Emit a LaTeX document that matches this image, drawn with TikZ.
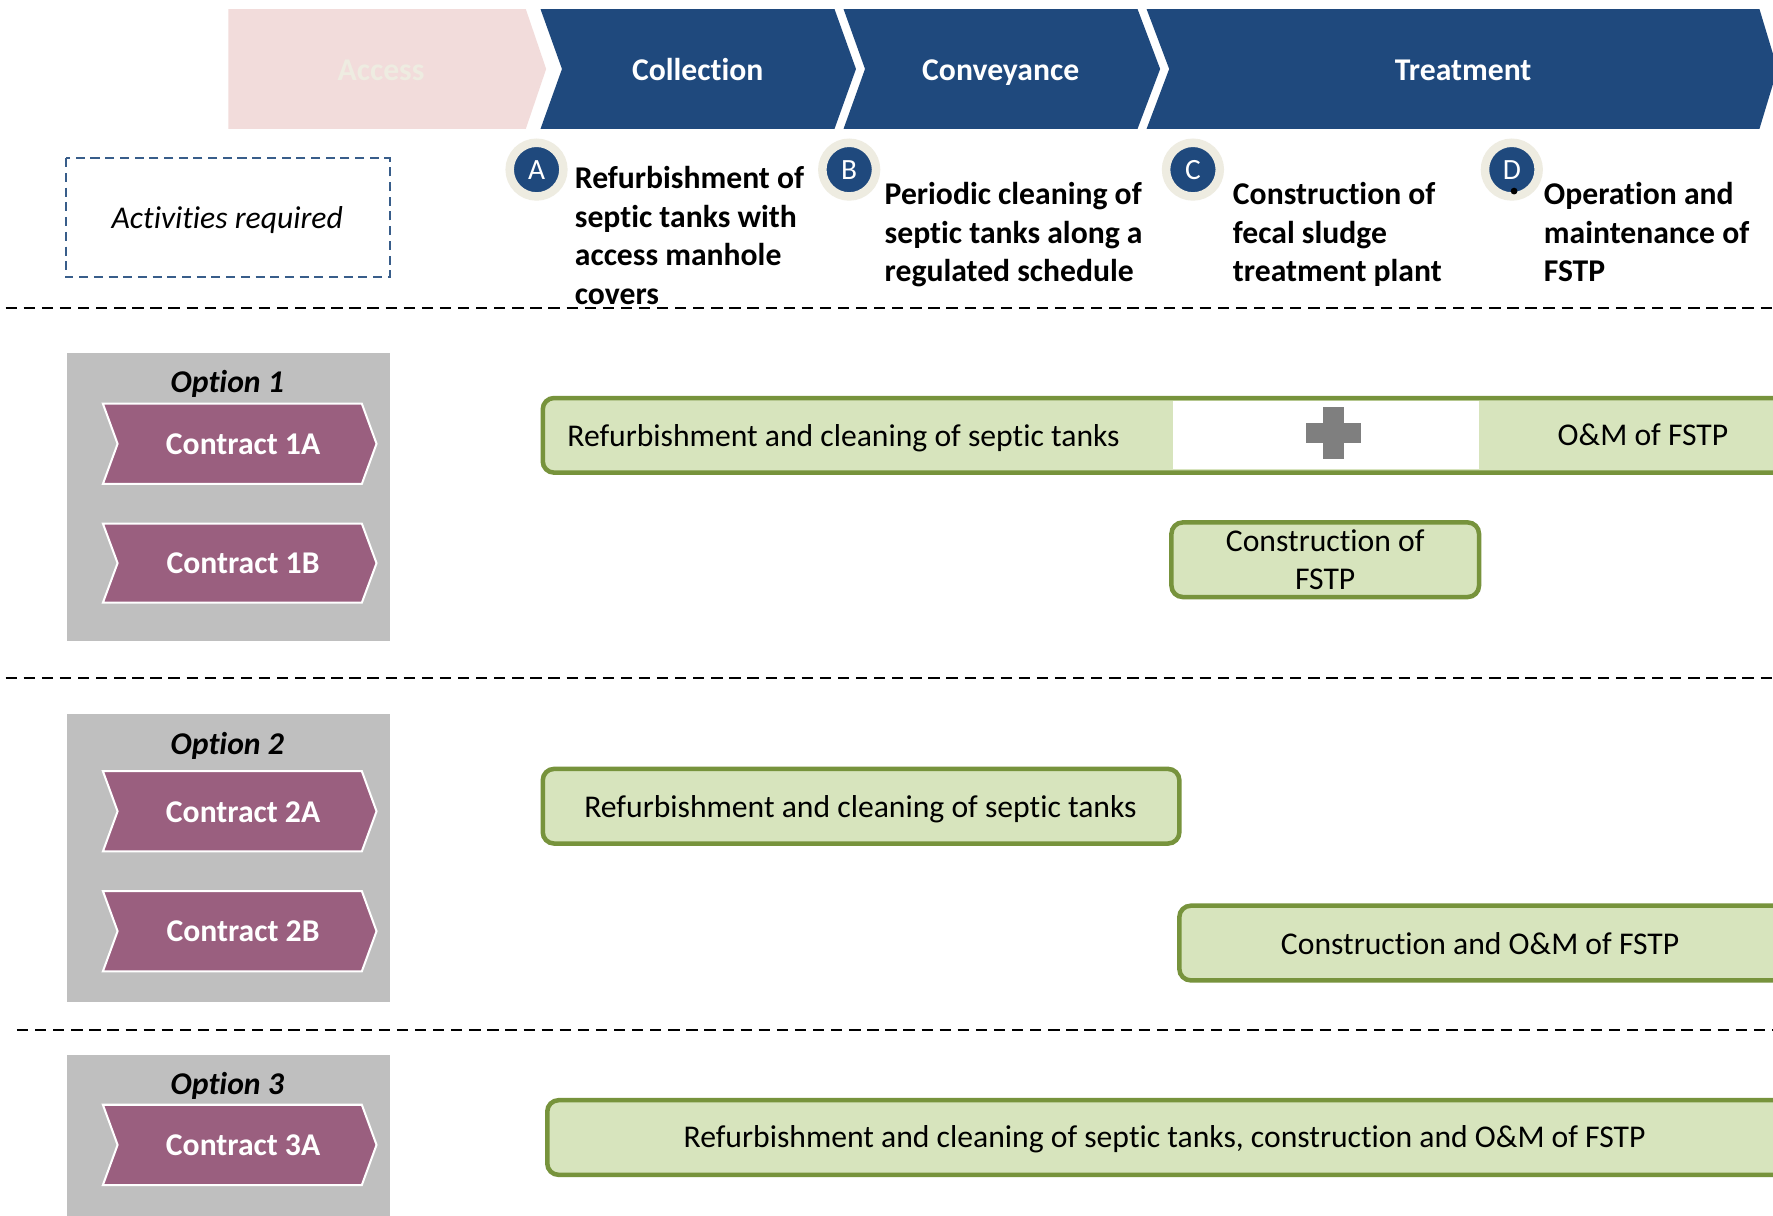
\documentclass[tikz,border=0pt]{standalone}
\usepackage{fontspec}
\setmainfont{Carlito}[Ligatures=NoCommon]
\definecolor{hdrblue}{HTML}{1F497D}
\definecolor{accpink}{HTML}{F2DCDB}
\definecolor{acctext}{HTML}{EEECE1}
\definecolor{ringbeige}{HTML}{EEECE1}
\definecolor{dashblue}{HTML}{385D8A}
\definecolor{panelgray}{HTML}{BFBFBF}
\definecolor{contractpurple}{HTML}{9A5F7F}
\definecolor{barfill}{HTML}{D7E4BD}
\definecolor{barline}{HTML}{77933C}
\definecolor{plusgray}{HTML}{7F7F7F}
\tikzset{
  txt/.style={font=\fontsize{14}{17}\selectfont, inner sep=0pt, anchor=base},
  hdrtxt/.style={font=\bfseries\fontsize{14}{17}\selectfont, text=white, inner sep=0pt, anchor=base},
  acttxt/.style={font=\bfseries\fontsize{14}{17}\selectfont, align=left, anchor=north west, inner sep=0pt},
  badge/.style={circle, fill=hdrblue, draw=ringbeige, line width=3.75pt, minimum size=23.75pt, inner sep=0pt, text=white, font=\fontsize{13}{15}\selectfont},
  divline/.style={draw=black, line width=0.9pt, dash pattern=on 5pt off 3pt},
  panel/.style={fill=panelgray},
  contractbox/.style={fill=contractpurple, draw=white, line width=0.9pt, line join=miter},
  contracttxt/.style={font=\bfseries\fontsize{14}{17}\selectfont, text=white, inner sep=0pt, anchor=base},
  optiontxt/.style={font=\bfseries\itshape\fontsize{14}{17}\selectfont, inner sep=0pt, anchor=base},
  greenbar/.style={fill=barfill, draw=barline, line width=2pt, rounded corners=5pt},
}
\begin{document}
\begin{tikzpicture}[x=0.5pt,y=-0.5pt]
\clip (0,0) rectangle (1568,1075);
\fill[white] (0,0) rectangle (1568,1075);

% header chevrons
\fill[accpink] (202,8) -- (465,8) -- (483,61) -- (465,114) -- (202,114) -- cycle;
\fill[hdrblue] (478,8) -- (738,8) -- (757,61) -- (738,114) -- (478,114) -- (497,61) -- cycle;
\fill[hdrblue] (746,8) -- (1006,8) -- (1026,61) -- (1006,114) -- (746,114) -- (765,61) -- cycle;
\fill[hdrblue] (1014,8) -- (1556,8) -- (1572,61) -- (1556,114) -- (1014,114) -- (1034,61) -- cycle;
\node[hdrtxt, text=acctext] (hacc) at (337,71) {Access};
\node[hdrtxt] (hcol) at (617,71) {Collection};
\node[hdrtxt] (hcon) at (885,71) {Conveyance};
\node[hdrtxt] (htre) at (1294,71) {Treatment};

% activities required
\draw[dashblue, line width=0.9pt, dash pattern=on 4pt off 2.5pt] (58,140) rectangle (345,245);
\node[txt, font=\itshape\fontsize{14}{17}\selectfont] (actreq) at (201,202) {Activities required};

% badges
\node[badge] (ba) at (474.5,150) {A};
\node[badge] (bb) at (751,150) {B};
\node[badge] (bc) at (1055,150) {C};
\node[badge] (bd) at (1337,150) {D};
\fill[black] (1339,169) circle (3);

\node[acttxt] (acta) at (508,147) {Refurbishment of\\septic tanks with\\access manhole\\covers};
\node[acttxt] (actb) at (782,161) {Periodic cleaning of\\septic tanks along a\\regulated schedule};
\node[acttxt] (actc) at (1090,161) {Construction of\\fecal sludge\\treatment plant};
\node[acttxt] (actd) at (1365,161) {Operation and\\maintenance of\\FSTP};

% dividers
\draw[divline] (5,272) -- (1568,272);
\draw[divline] (5,600) -- (1568,600);
\draw[divline] (15,911) -- (1568,911);

% option panels
\fill[panel] (59,312) rectangle (345,567);
\fill[panel] (59,631) rectangle (345,886);
\fill[panel] (59,933) rectangle (345,1080);
\node[optiontxt] (opt1) at (201,347) {Option 1};
\node[optiontxt] (opt2) at (201,667) {Option 2};
\node[optiontxt] (opt3) at (201,968) {Option 3};

\draw[contractbox] (91,357) -- (320,357) -- (333,392.5) -- (320,428) -- (91,428) -- (104,392.5) -- cycle;
\node[contracttxt] (c1a) at (215,402) {Contract 1A};
\draw[contractbox] (91,463) -- (320,463) -- (333,498) -- (320,533) -- (91,533) -- (104,498) -- cycle;
\node[contracttxt] (c1b) at (215,507) {Contract 1B};
\draw[contractbox] (91,682) -- (320,682) -- (333,717.5) -- (320,753) -- (91,753) -- (104,717.5) -- cycle;
\node[contracttxt] (c2a) at (215,727) {Contract 2A};
\draw[contractbox] (91,788) -- (320,788) -- (333,823.5) -- (320,859) -- (91,859) -- (104,823.5) -- cycle;
\node[contracttxt] (c2b) at (215,833) {Contract 2B};
\draw[contractbox] (91,977) -- (320,977) -- (333,1012.5) -- (320,1048) -- (91,1048) -- (104,1012.5) -- cycle;
\node[contracttxt] (c3a) at (215,1022) {Contract 3A};

% option 1 bars
\draw[greenbar] (480,352) rectangle (1600,418);
\fill[white] (1037,355) rectangle (1308,415);
\fill[plusgray] (1170,360) rectangle (1189,406);
\fill[plusgray] (1155,374) rectangle (1204,392);
\node[txt] (b1l) at (746,395) {Refurbishment and cleaning of septic tanks};
\node[txt] (b1r) at (1453,394) {O\&M of FSTP};
\draw[greenbar] (1036,462) rectangle (1308,528);
\node[txt, align=center, anchor=center] (b1c) at (1172,495) {Construction of\\FSTP};

% option 2 bars
\draw[greenbar] (480,680) rectangle (1043,746);
\node[txt] (b2a) at (761,723) {Refurbishment and cleaning of septic tanks};
\draw[greenbar] (1043,801) rectangle (1600,867);
\node[txt] (b2b) at (1309,844) {Construction and O\&M of FSTP};

% option 3 bar
\draw[greenbar] (484,973) rectangle (1600,1039);
\node[txt] (b3) at (1030,1015) {Refurbishment and cleaning of septic tanks, construction and O\&M of FSTP};
\end{tikzpicture}
\end{document}
